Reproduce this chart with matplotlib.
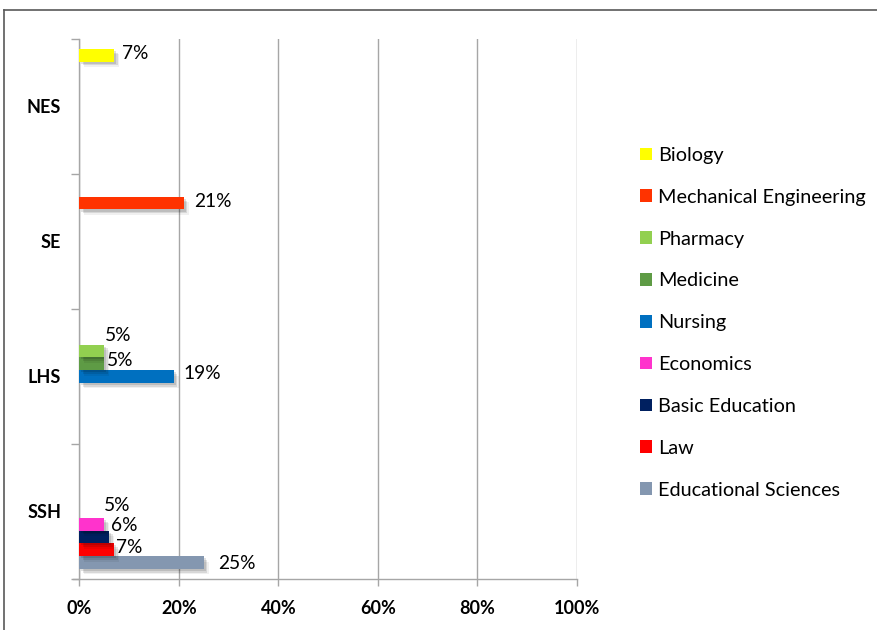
import matplotlib
matplotlib.use("Agg")
import matplotlib.pyplot as plt
import matplotlib.patheffects as pe
from matplotlib.lines import Line2D
from matplotlib.patches import Patch

plt.rcParams["font.family"] = ["Lato", "DejaVu Sans"]

# Faculty groups (bottom to top on the chart)
categories = ["SSH", "LHS", "SE", "NES"]

# Share of respondents per study programme, in percent, per faculty group
series_names = [
    "Educational Sciences", "Law", "Basic Education", "Economics",
    "Nursing", "Medicine", "Pharmacy", "Mechanical Engineering", "Biology",
]
educational_sciences = [25, 0, 0, 0]
law = [7, 0, 0, 0]
basic_education = [6, 0, 0, 0]
economics = [5, 0, 0, 0]
nursing = [0, 19, 0, 0]
medicine = [0, 5, 0, 0]
pharmacy = [0, 5, 0, 0]
mechanical_engineering = [0, 0, 21, 0]
biology = [0, 0, 0, 7]

values = [educational_sciences, law, basic_education, economics, nursing,
          medicine, pharmacy, mechanical_engineering, biology]

colors = ["#8497B0", "#FF0000", "#002060", "#FF33CC", "#0070C0",
          "#5E9B45", "#92D050", "#FF3300", "#FFFF00"]

xticks = [0, 20, 40, 60, 80, 100]
xtick_labels = ["0%", "20%", "40%", "60%", "80%", "100%"]

# label placement (pixel offsets from bar end / bar centre)
label_offsets = {
    (0, 0): (14, -1), (1, 0): (2, 2.5), (2, 0): (2, 11), (3, 0): (0, 19),
    (4, 1): (10, 3), (5, 1): (3, 3), (6, 1): (1, 15.5),
    (7, 2): (10, 2), (8, 3): (8, 1.5),
}

W, H = 878, 630
fig = plt.figure(figsize=(W / 100, H / 100), dpi=100)
fig.patch.set_facecolor("white")
x0, x1, y_top, y_bot = 79.3, 577, 38.7, 579
ax = fig.add_axes([x0 / W, 1 - y_bot / H, (x1 - x0) / W, (y_bot - y_top) / H])

n = len(series_names)
slot = 0.0944
gap = (1 - n * slot) / 2
px_per_pt = 100 / 72

shadow = [
    pe.SimplePatchShadow(offset=(1.5, -1.5), shadow_rgbFace="k", alpha=0.12),
    pe.SimplePatchShadow(offset=(2.5, -2.8), shadow_rgbFace="k", alpha=0.10),
    pe.SimplePatchShadow(offset=(3.5, -4.0), shadow_rgbFace="k", alpha=0.06),
    pe.Normal(),
]

for i, (name, vals, col) in enumerate(zip(series_names, values, colors)):
    for c, v in enumerate(vals):
        if v == 0:
            continue
        yc = c - 0.5 + gap + (i + 0.5) * slot
        bars = ax.barh(yc, v, height=slot, color=col, zorder=3)
        for b in bars:
            b.set_path_effects(shadow)
        dx, dy = label_offsets.get((i, c), (8, 0))
        ax.annotate(f"{v}%", xy=(v, yc), xytext=(dx / px_per_pt, dy / px_per_pt),
                    textcoords="offset points", ha="left", va="center",
                    fontsize=13.8, color="black", zorder=4)

ax.set_xlim(0, 100)
ax.set_ylim(-0.5, len(categories) - 0.5)
ax.set_xticks(xticks)
ax.set_xticklabels(xtick_labels, fontsize=13, fontweight="bold")
ax.set_yticks(range(len(categories)))
ax.set_yticklabels(categories, fontsize=13, fontweight="bold")
ax.set_yticks([c - 0.5 for c in range(len(categories) + 1)], minor=True)
ax.tick_params(axis="y", which="major", length=0, pad=13)
ax.tick_params(axis="y", which="minor", length=6, color="#A6A6A6", width=1)
ax.tick_params(axis="x", length=5, color="#A6A6A6", width=1, pad=10)
ax.grid(axis="x", color="#A6A6A6", linewidth=1, zorder=0)
ax.set_axisbelow(True)
for s in ["top", "right"]:
    ax.spines[s].set_visible(False)
for s in ["left", "bottom"]:
    ax.spines[s].set_color("#A6A6A6")
    ax.spines[s].set_linewidth(1)
ax.spines["bottom"].set_bounds(-1.2, 100)

handles = [Patch(facecolor=colors[i], edgecolor="none") for i in range(n - 1, -1, -1)]
labels = [series_names[i] for i in range(n - 1, -1, -1)]
fig.legend(handles, labels, loc="upper left", bbox_to_anchor=(632 / W, 1 - 139 / H),
           frameon=False, fontsize=14.3, handlelength=0.6, handleheight=0.6,
           handletextpad=0.3, labelspacing=1.25, borderaxespad=0)

# outer chart frame
fig.add_artist(Line2D([4.5 / W, 1], [1 - 9.5 / H, 1 - 9.5 / H], color="#595959", lw=1.2))
fig.add_artist(Line2D([4.5 / W, 4.5 / W], [0, 1 - 9.5 / H], color="#595959", lw=1.2))

fig.savefig("out.png", dpi=100, facecolor="white")
